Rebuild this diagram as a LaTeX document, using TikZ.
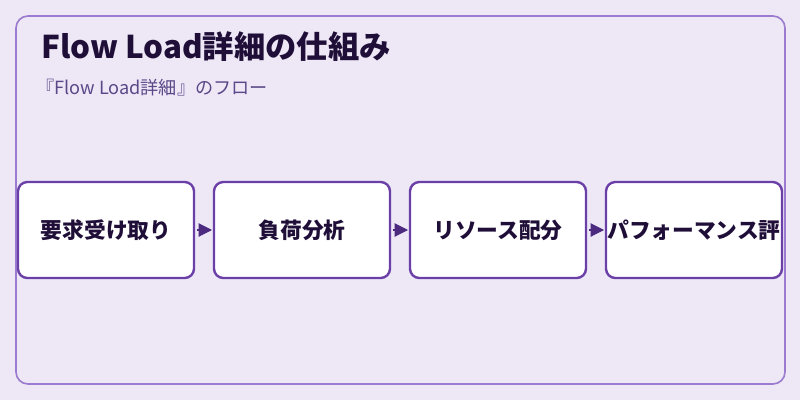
\documentclass[tikz,border=0pt]{standalone}
\usepackage{fontspec}
\setmainfont{Noto Sans CJK JP}
\usepackage{tikz}
\usepackage{xcolor}
\usetikzlibrary{positioning,arrows.meta}

\definecolor{bgpurple}{HTML}{EDE7F6}
\definecolor{framepurple}{HTML}{9B7BCF}
\definecolor{boxpurple}{HTML}{6A40A8}
\definecolor{arrowpurple}{HTML}{4B2A80}
\definecolor{titleink}{HTML}{1F0F38}
\definecolor{subink}{HTML}{5A4888}

\begin{document}
\begin{tikzpicture}[x=0.75pt, y=-0.75pt,
  stepbox/.style = {shape=rectangle, draw=boxpurple, line width=1.8pt, fill=white, rounded corners=7pt,
    minimum width=132pt, minimum height=72pt, inner sep=0pt, outer sep=0pt, align=center,
    font=\fontsize{16.3}{19}\selectfont\bfseries, text=titleink},
  flowarrow/.style = {draw=arrowpurple, line width=0.8pt, shorten <=2pt, shorten >=1.5pt,
    -{Triangle[length=10pt, width=10pt]}, arrowpurple}]
\useasboundingbox[fill=bgpurple] (0,0) rectangle (800,400);
\draw[framepurple, line width=1.2pt, rounded corners=9pt] (16,16) rectangle (785,384);
\node[anchor=west, font=\fontsize{23.5}{28}\selectfont\bfseries, text=titleink, inner sep=0pt] (title) at (41,47) {Flow Load詳細の仕組み};
\node[anchor=west, font=\fontsize{13.6}{16}\selectfont, text=subink, inner sep=0pt] (subtitle) at (36,88) {『Flow Load詳細』のフロー};
\node[stepbox] (recv) at (106,230) {要求受け取り};
\node[stepbox, right=15pt of recv] (load) {負荷分析};
\node[stepbox, right=15pt of load] (alloc) {リソース配分};
\node[stepbox, right=15pt of alloc] (perf) {パフォーマンス評};
\draw[flowarrow] (recv) -- (load);
\draw[flowarrow] (load) -- (alloc);
\draw[flowarrow] (alloc) -- (perf);
\end{tikzpicture}
\end{document}
